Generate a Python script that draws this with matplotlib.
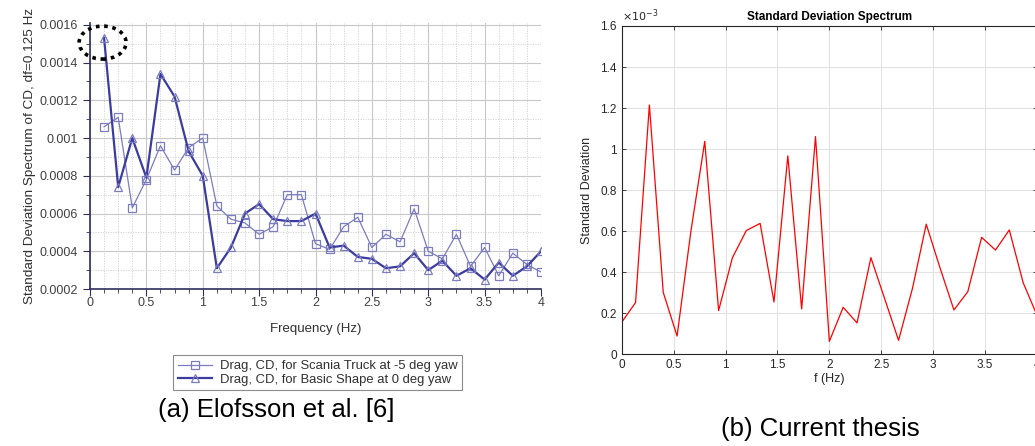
import numpy as np
import matplotlib
matplotlib.use("Agg")
import matplotlib.pyplot as plt
from matplotlib.patches import Ellipse
from matplotlib.transforms import ScaledTranslation
from matplotlib.ticker import MultipleLocator

# ---- data: (a) Elofsson et al., df = 0.125 Hz ----
freq_a = [0.125 * k for k in range(1, 33)]
scania = [0.00106, 0.00111, 0.00063, 0.00078, 0.00096, 0.00083, 0.00095, 0.00100,
          0.00064, 0.00057, 0.00055, 0.00049, 0.00053, 0.00070, 0.00070, 0.00044,
          0.00041, 0.00053, 0.00058, 0.00042, 0.00049, 0.00045, 0.000625, 0.00040,
          0.00036, 0.00049, 0.00032, 0.00042, 0.00027, 0.00039, 0.00033, 0.00029]
basic = [0.00153, 0.00074, 0.00100, 0.00079, 0.00134, 0.00122, 0.00093, 0.00080,
         0.00031, 0.00042, 0.00060, 0.00065, 0.00057, 0.00056, 0.00056, 0.00060,
         0.00042, 0.00043, 0.00037, 0.00036, 0.00031, 0.00032, 0.00039, 0.00030,
         0.00035, 0.00027, 0.00031, 0.00025, 0.00034, 0.00027, 0.00032, 0.00040]
label_scania = "Drag, CD, for Scania Truck at -5 deg yaw"
label_basic = "Drag, CD, for Basic Shape at 0 deg yaw"
yticks_a = [0.0002, 0.0004, 0.0006, 0.0008, 0.001, 0.0012, 0.0014, 0.0016]
yticklabels_a = ["0.0002", "0.0004", "0.0006", "0.0008", "0.001", "0.0012", "0.0014", "0.0016"]
xticks_a = [0, 0.5, 1, 1.5, 2, 2.5, 3, 3.5, 4]
xticklabels_a = ["0", "0.5", "1", "1.5", "2", "2.5", "3", "3.5", "4"]

# ---- data: (b) current thesis, values in units of 1e-3 ----
freq_b = [4.0 * k / 30 for k in range(31)]
std_b = [0.156, 0.252, 1.215, 0.302, 0.089, 0.600, 1.038, 0.213, 0.471, 0.603,
         0.638, 0.255, 0.967, 0.221, 1.061, 0.063, 0.229, 0.153, 0.471, 0.270,
         0.068, 0.320, 0.634, 0.420, 0.216, 0.305, 0.570, 0.508, 0.606, 0.349,
         0.190]
yticks_b = [0, 0.2, 0.4, 0.6, 0.8, 1.0, 1.2, 1.4, 1.6]
yticklabels_b = ["0", "0.2", "0.4", "0.6", "0.8", "1", "1.2", "1.4", "1.6"]
xticks_b = [0, 0.5, 1, 1.5, 2, 2.5, 3, 3.5, 4]
xticklabels_b = ["0", "0.5", "1", "1.5", "2", "2.5", "3", "3.5", "4"]

W, H = 1035, 446
fig = plt.figure(figsize=(W / 100, H / 100), dpi=100)
plt.rcParams["font.family"] = ["Liberation Sans", "DejaVu Sans"]


def box(x0, y0, x1, y1):
    """Axes rectangle from pixel edges (top-left origin)."""
    return [x0 / W, 1 - y1 / H, (x1 - x0) / W, (y1 - y0) / H]


# ================= panel (a) =================
ax1 = fig.add_axes(box(90, 23, 541, 289))
light = "#7C7CC0"
dark = "#3C3CA0"
ax1.plot(freq_a, scania, color=light, lw=0.9, marker="s", ms=5.4, mfc="none",
         mec=light, mew=0.9, label=label_scania)
ax1.plot(freq_a, basic, color=dark, lw=1.6, marker="^", ms=5.4, mfc="none",
         mec=light, mew=0.9, label=label_basic)
ax1.set_xlim(0, 4)
ax1.set_ylim(0.0002, 0.00161)
ax1.set_xticks(xticks_a, xticklabels_a)
ax1.set_yticks(yticks_a, yticklabels_a)
ax1.xaxis.set_minor_locator(MultipleLocator(0.125))
ax1.yaxis.set_minor_locator(MultipleLocator(0.0001))
ax1.grid(True, which="major", color="#C8C8C8", lw=0.8)
ax1.grid(True, which="minor", color="#D0D0D0", lw=0.6, ls=(0, (1.5, 1.5)))
ax1.set_axisbelow(True)
for s in ("top", "right"):
    ax1.spines[s].set_visible(False)
for s in ("left", "bottom"):
    ax1.spines[s].set_color("#2E2E5E")
    ax1.spines[s].set_linewidth(1.2)
ax1.tick_params(which="both", direction="out", colors="#2E2E5E", labelcolor="#404040",
                labelsize=9)
ax1.tick_params(which="major", length=5)
ax1.tick_params(which="minor", length=3)
ax1.tick_params(axis="x", which="both", pad=1)
ax1.set_xlabel("Frequency (Hz)", fontsize=9.5, color="#303030", labelpad=10)
ax1.set_ylabel("Standard Deviation Spectrum of CD, df=0.125 Hz", fontsize=9.7,
               color="#303030", labelpad=3)
leg = ax1.legend(loc="upper center", bbox_to_anchor=(0.505, -0.225), ncol=1,
                 frameon=True, fancybox=False, fontsize=9.4, handlelength=2.6,
                 borderpad=0.35, labelspacing=0.1, handletextpad=0.6)
leg.get_frame().set_edgecolor("#707070")
leg.get_frame().set_linewidth(0.8)
for t in leg.get_texts():
    t.set_color("#303030")

# dotted ring around the highest point of the basic-shape spectrum
i_pk = int(np.argmax(basic))
ring_tf = fig.dpi_scale_trans + ScaledTranslation(freq_a[i_pk], basic[i_pk], ax1.transData)
ax1.add_patch(Ellipse((-0.015, -0.045), 0.47, 0.33, transform=ring_tf, fill=False,
                      ec="black", lw=2.6, ls=(0, (1, 1.3)), clip_on=False, zorder=5))

fig.text(276 / W, 1 - 410 / H, "(a) Elofsson et al. [6]", ha="center", va="center",
         fontsize=18.5, color="black")

# ================= panel (b) =================
ax2 = fig.add_axes(box(621.7, 26, 1037, 354.3))
ax2.plot(freq_b, std_b, color="red", lw=0.9)
ax2.set_xlim(0, 4)
ax2.set_ylim(0, 1.6)
ax2.set_xticks(xticks_b, xticklabels_b)
ax2.set_yticks(yticks_b, yticklabels_b)
ax2.grid(True, color="#E3E3E3", lw=0.8)
ax2.set_axisbelow(True)
for s in ax2.spines.values():
    s.set_color("#262626")
    s.set_linewidth(0.8)
ax2.tick_params(direction="in", length=3, top=True, right=True, colors="#262626",
                labelcolor="#262626", labelsize=8.5, width=0.6)
ax2.set_xlabel("f (Hz)", fontsize=9, color="#262626", labelpad=1)
ax2.set_ylabel("Standard Deviation", fontsize=9, color="#262626", labelpad=5)
ax2.set_title("Standard Deviation Spectrum", fontsize=8.5, fontweight="bold", pad=4)
ax2.text(0.0, 1.005, r"$\times10^{-3}$", transform=ax2.transAxes, ha="left",
         va="bottom", fontsize=8, color="#262626")

fig.text(820 / W, 1 - 429 / H, "(b) Current thesis", ha="center", va="center",
         fontsize=18.5, color="black")

fig.savefig("out.png", dpi=100)
